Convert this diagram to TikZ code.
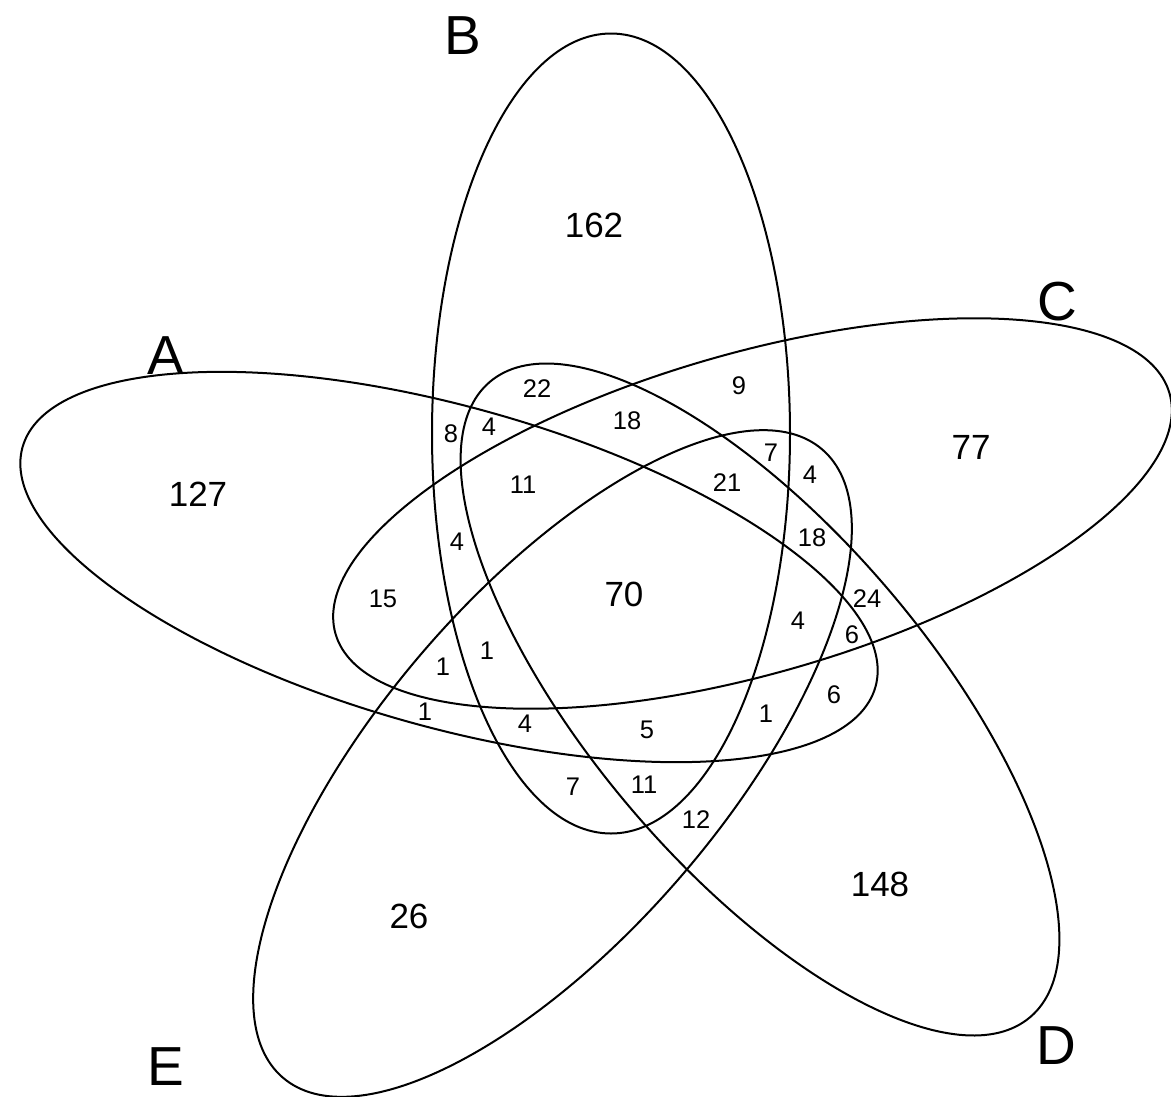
\documentclass[tikz,border=0pt]{standalone}
\usepackage{fontspec}
\setmainfont{Liberation Sans}
\usepackage{tikz}

\begin{document}
\begin{tikzpicture}[
  x=1pt, y=-1pt,
  set/.style={draw=black, line width=2pt},
  setname/.style={font=\fontsize{55}{60}\selectfont, inner sep=0pt},
  big/.style={font=\fontsize{35}{40}\selectfont, inner sep=0pt},
  small/.style={font=\fontsize{25.5}{30}\selectfont, inner sep=0pt}
]
  \useasboundingbox (0,0) rectangle (1171,1096);

  % Sets
  \draw[set, rotate around={-15.7:(449,567)}] (449,567) ellipse (443pt and 160pt);
  \draw[set] (611,433.5) ellipse (179pt and 400pt);
  \draw[set, rotate around={16.1:(752.5,513.5)}] (752.5,513.5) ellipse (434pt and 160pt);
  \draw[set, rotate around={-49.6:(760,699.5)}] (760,699.5) ellipse (417pt and 169pt);
  \draw[set, rotate around={49.35:(552.5,763.5)}] (552.5,763.5) ellipse (414pt and 171pt);

  % Set names
  \node[setname] (nameA) at (166,356) {A};
  \node[setname] (nameB) at (463,36) {B};
  \node[setname] (nameC) at (1057,302) {C};
  \node[setname] (nameD) at (1056,1046) {D};
  \node[setname] (nameE) at (166,1067) {E};

  % Only one set
  \node[big] (onlyA) at (198,494) {127};
  \node[big] (onlyB) at (594,225) {162};
  \node[big] (onlyC) at (971,447) {77};
  \node[big] (onlyD) at (880,884) {148};
  \node[big] (onlyE) at (409,916) {26};
  \node[big] (all) at (624,594) {70};

  % Overlaps
  \node[small] (c22) at (537,389) {22};
  \node[small] (c9) at (739,386) {9};
  \node[small] (c8) at (451,434) {8};
  \node[small] (c4a) at (489,427) {4};
  \node[small] (c18a) at (627,421) {18};
  \node[small] (c11a) at (523,485) {11};
  \node[small] (c7a) at (771,453) {7};
  \node[small] (c21) at (727,483) {21};
  \node[small] (c4b) at (810,475) {4};
  \node[small] (c4c) at (457,542) {4};
  \node[small] (c18b) at (812,538) {18};
  \node[small] (c15) at (383,599) {15};
  \node[small] (c24) at (867,599) {24};
  \node[small] (c4d) at (798,621) {4};
  \node[small] (c6a) at (852,635) {6};
  \node[small] (c1a) at (443,667) {1};
  \node[small] (c1b) at (487,651) {1};
  \node[small] (c6b) at (834,695) {6};
  \node[small] (c1c) at (425,712) {1};
  \node[small] (c4e) at (525,724) {4};
  \node[small] (c5) at (647,730) {5};
  \node[small] (c1d) at (766,714) {1};
  \node[small] (c7b) at (573,787) {7};
  \node[small] (c11b) at (644,785) {11};
  \node[small] (c12) at (696,820) {12};
\end{tikzpicture}
\end{document}
